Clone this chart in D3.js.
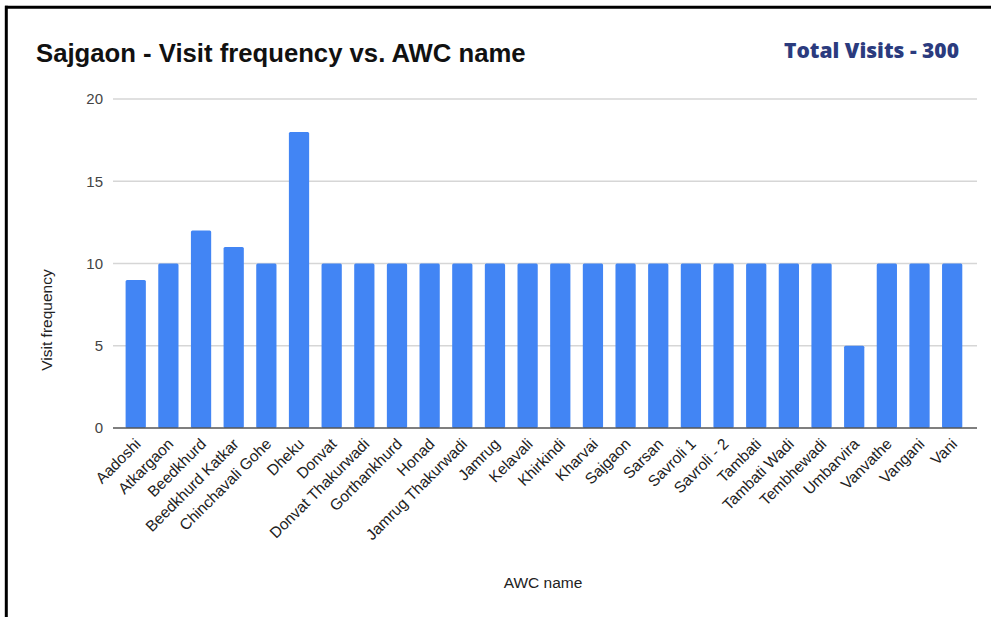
<!DOCTYPE html>
<html>
<head>
<meta charset="utf-8">
<script src="https://cdn.jsdelivr.net/npm/d3@7"></script>
<style>
  html, body { margin: 0; padding: 0; background: #fff; }
  svg { display: block; }
</style>
</head>
<body>
<svg id="chart" width="991" height="617"></svg>
<script>
// AWC names in display order
const awcNames = [
  "Aadoshi", "Atkargaon", "Beedkhurd", "Beedkhurd Katkar", "Chinchavali Gohe",
  "Dheku", "Donvat", "Donvat Thakurwadi", "Gorthankhurd", "Honad",
  "Jamrug Thakurwadi", "Jamrug", "Kelavali", "Khirkindi", "Kharvai",
  "Sajgaon", "Sarsan", "Savroli 1", "Savroli - 2", "Tambati",
  "Tambati Wadi", "Tembhewadi", "Umbarvira", "Vanvathe", "Vangani", "Vani"
];

// Visit frequency per AWC
const visitFrequency = [
  9, 10, 12, 11, 10,
  18, 10, 10, 10, 10,
  10, 10, 10, 10, 10,
  10, 10, 10, 10, 10,
  10, 10, 5, 10, 10, 10
];

const yTicks = [0, 5, 10, 15, 20];

const chartTitle = "Sajgaon - Visit frequency vs. AWC name";
const totalLabel = "Total Visits - 300";
const xAxisTitle = "AWC name";
const yAxisTitle = "Visit frequency";

const svg = d3.select("#chart");
const W = 991, H = 617;

// frame lines on the top and left edges
svg.append("rect").attr("x", 0).attr("y", 0).attr("width", W).attr("height", H).attr("fill", "#fff");
svg.append("line").attr("x1", 5).attr("x2", W).attr("y1", 7.2).attr("y2", 7.2)
  .attr("stroke", "#000").attr("stroke-width", 3);
svg.append("line").attr("x1", 6.3).attr("x2", 6.3).attr("y1", 5.7).attr("y2", H)
  .attr("stroke", "#000").attr("stroke-width", 3);

// plot area
const gridLeft = 113, gridRight = 977;
const bandLeft = 119.4, bandRight = 968.5;
const plotTop = 99, plotBottom = 428;

const x = d3.scaleBand()
  .domain(awcNames)
  .range([bandLeft, bandRight])
  .paddingInner(0.38)
  .paddingOuter(0.19);

const y = d3.scaleLinear()
  .domain([0, 20])
  .range([plotBottom, plotTop]);

// gridlines
svg.append("g")
  .selectAll("line")
  .data(yTicks.filter(d => d !== 0))
  .join("line")
  .attr("x1", gridLeft).attr("x2", gridRight)
  .attr("y1", d => y(d)).attr("y2", d => y(d))
  .attr("stroke", "#d6d6d6").attr("stroke-width", 1.6);

// y tick labels
svg.append("g")
  .selectAll("text")
  .data(yTicks)
  .join("text")
  .attr("x", 103)
  .attr("y", d => y(d))
  .attr("dy", "0.36em")
  .attr("text-anchor", "end")
  .attr("font-family", "Liberation Sans, Arial, sans-serif")
  .attr("font-size", 15)
  .attr("fill", "#444")
  .text(d => d);

// bars
svg.append("g")
  .selectAll("rect")
  .data(awcNames.map((n, i) => ({ name: n, value: visitFrequency[i] })))
  .join("rect")
  .attr("x", d => x(d.name))
  .attr("y", d => y(d.value))
  .attr("width", x.bandwidth())
  .attr("height", d => y(0) - y(d.value))
  .attr("rx", 1.5)
  .attr("fill", "#4285f4");

// baseline
svg.append("line")
  .attr("x1", gridLeft).attr("x2", gridRight)
  .attr("y1", y(0)).attr("y2", y(0))
  .attr("stroke", "#555").attr("stroke-width", 1.6);

// x category labels, rotated
svg.append("g")
  .selectAll("text")
  .data(awcNames)
  .join("text")
  .attr("transform", d => `translate(${x(d) + x.bandwidth() / 2 + 6},${plotBottom + 17}) rotate(-45)`)
  .attr("text-anchor", "end")
  .attr("font-family", "Liberation Sans, Arial, sans-serif")
  .attr("font-size", 15.5)
  .attr("fill", "#222")
  .text(d => d);

// axis titles
svg.append("text")
  .attr("x", 543)
  .attr("y", 588)
  .attr("text-anchor", "middle")
  .attr("font-family", "Liberation Sans, Arial, sans-serif")
  .attr("font-size", 15.5)
  .attr("fill", "#222")
  .text(xAxisTitle);

svg.append("text")
  .attr("transform", "translate(52,320) rotate(-90)")
  .attr("text-anchor", "middle")
  .attr("font-family", "Liberation Sans, Arial, sans-serif")
  .attr("font-size", 15.5)
  .attr("fill", "#222")
  .text(yAxisTitle);

// title
svg.append("text")
  .attr("x", 36)
  .attr("y", 61.5)
  .attr("font-family", "Liberation Sans, Arial, sans-serif")
  .attr("font-weight", "bold")
  .attr("font-size", 25.7)
  .attr("fill", "#111")
  .text(chartTitle);

// total visits text
svg.append("text")
  .attr("x", 784)
  .attr("y", 57.7)
  .attr("font-family", "Open Sans, sans-serif")
  .attr("font-weight", 800)
  .attr("font-size", 21)
  .attr("textLength", 175)
  .attr("lengthAdjust", "spacingAndGlyphs")
  .attr("fill", "#2b3b7e")
  .text(totalLabel);
</script>
</body>
</html>
